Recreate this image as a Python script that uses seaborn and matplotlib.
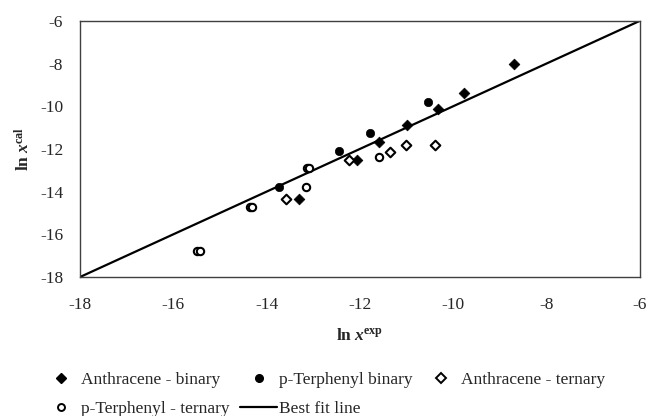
import matplotlib
matplotlib.use("Agg")
import matplotlib.pyplot as plt
import seaborn as sns
from matplotlib.lines import Line2D

sns.set_style("white")
plt.rcParams['font.family'] = ['Liberation Serif', 'DejaVu Serif']
plt.rcParams['axes.unicode_minus'] = False
plt.rcParams['mathtext.fontset'] = 'custom'
plt.rcParams['mathtext.rm'] = 'Liberation Serif'
plt.rcParams['mathtext.it'] = 'Liberation Serif:italic'
plt.rcParams['mathtext.bf'] = 'Liberation Serif:bold'
plt.rcParams['mathtext.bfit'] = 'Liberation Serif:italic:bold'

# Data
anth_bin_x = [-13.3, -12.07, -11.59, -11.0, -10.32, -9.77, -8.69]
anth_bin_y = [-14.35, -12.52, -11.69, -10.88, -10.13, -9.39, -8.02]
pter_bin_x = [-13.73, -12.44, -11.79, -10.54]
pter_bin_y = [-13.8, -12.08, -11.27, -9.78]
anth_ter_x = [-13.59, -12.23, -11.36, -11.02, -10.39]
anth_ter_y = [-14.35, -12.52, -12.14, -11.81, -11.81]
pter_ter_x = [-15.5, -15.43, -14.36, -14.32, -13.16, -13.14, -13.09, -11.6]
pter_ter_y = [-16.77, -16.77, -14.73, -14.73, -13.8, -12.9, -12.9, -12.4]
fit_x = [-18, -6]
fit_y = [-18, -6]
ticks = [-18, -16, -14, -12, -10, -8, -6]

fig = plt.figure(figsize=(6.55, 4.16), dpi=100)
ax = fig.add_axes([0.122, 0.334, 0.855, 0.616])

sns.lineplot(x=fit_x, y=fit_y, ax=ax, color='black', linewidth=1.6, zorder=2)
sns.scatterplot(x=anth_bin_x, y=anth_bin_y, ax=ax, marker='D', s=30,
                color='black', edgecolor='black', linewidth=0.5, zorder=3)
sns.scatterplot(x=pter_bin_x, y=pter_bin_y, ax=ax, marker='o', s=36,
                color='black', edgecolor='black', linewidth=0.5, zorder=3)
sns.scatterplot(x=anth_ter_x, y=anth_ter_y, ax=ax, marker='D', s=24,
                facecolor='white', edgecolor='black', linewidth=1.5, zorder=3)
sns.scatterplot(x=pter_ter_x, y=pter_ter_y, ax=ax, marker='o', s=28,
                facecolor='white', edgecolor='black', linewidth=1.5, zorder=3)

ax.set_xlim(-18, -6)
ax.set_ylim(-18, -6)
ax.set_xticks(ticks)
ax.set_yticks(ticks)
ax.tick_params(axis='both', labelsize=12.5, length=0)
ax.tick_params(axis='x', pad=14)
ax.tick_params(axis='y', pad=12)
for sp in ax.spines.values():
    sp.set_color('#404040')
    sp.set_linewidth(1.0)

ax.set_xlabel(r'$\mathbf{ln}\ \mathbfit{x}^{\mathbf{exp}}$', fontsize=12.5, labelpad=11)
ax.set_ylabel(r'$\mathbf{ln}\ \mathbfit{x}^{\mathbf{cal}}$', fontsize=12.5, labelpad=5)

h_ab = Line2D([], [], marker='D', color='black', linestyle='none', markersize=5)
h_pb = Line2D([], [], marker='o', color='black', linestyle='none', markersize=5.5)
h_at = Line2D([], [], marker='D', markerfacecolor='white', markeredgecolor='black',
              markeredgewidth=1.4, linestyle='none', markersize=4.8)
h_pt = Line2D([], [], marker='o', markerfacecolor='white', markeredgecolor='black',
              markeredgewidth=1.4, linestyle='none', markersize=5)
h_fit = Line2D([], [], color='black', linewidth=1.6)

handles = [h_ab, h_pt, h_pb, h_fit, h_at]
labels = ['Anthracene - binary', 'p-Terphenyl - ternary', 'p-Terphenyl binary',
          'Best fit line', 'Anthracene - ternary']
fig.legend(handles, labels, ncol=3, loc='upper left', bbox_to_anchor=(0.066, 0.106),
           frameon=False, fontsize=12.5, handlelength=2.1, handletextpad=0.1,
           columnspacing=0.6, labelspacing=0.75, borderaxespad=0, borderpad=0)

fig.savefig('out.png', dpi=100)
